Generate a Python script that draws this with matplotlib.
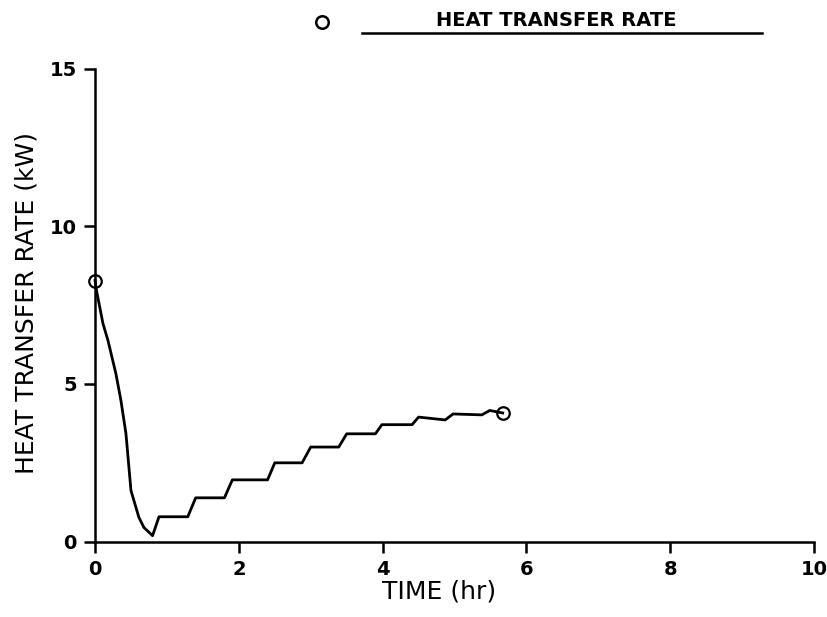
import matplotlib
matplotlib.use('Agg')
import matplotlib.pyplot as plt
from matplotlib.lines import Line2D

# heat transfer rate vs time
time_hr = [0.0, 0.02, 0.11, 0.18, 0.29, 0.36, 0.43, 0.50, 0.61, 0.68, 0.80,
           0.89, 1.29, 1.40, 1.80, 1.91, 2.40, 2.50, 2.88, 3.00, 3.39, 3.50,
           3.90, 3.99, 4.41, 4.50, 4.87, 4.98, 5.38, 5.49, 5.67]
rate_kw = [8.28, 7.97, 6.92, 6.38, 5.33, 4.48, 3.43, 1.62, 0.77, 0.45, 0.19,
           0.79, 0.79, 1.39, 1.39, 1.96, 1.96, 2.50, 2.50, 3.00, 3.00, 3.42,
           3.42, 3.71, 3.71, 3.95, 3.86, 4.05, 4.02, 4.16, 4.08]

x_ticks = [0, 2, 4, 6, 8, 10]
y_ticks = [0, 5, 10, 15]
legend_label = 'HEAT TRANSFER RATE'

fig = plt.figure(figsize=(8.27, 6.17), dpi=100)
ax = fig.add_axes([0.1149, 0.1221, 0.8694, 0.7667])

ax.plot(time_hr, rate_kw, color='black', lw=2.0, marker='o', markevery=[0, -1],
        ms=9, mfc='none', mec='black', mew=1.6, clip_on=False, zorder=3)

ax.set_xlim(0, 10)
ax.set_ylim(0, 15)
ax.set_xticks(x_ticks)
ax.set_yticks(y_ticks)
for s in ['top', 'right']:
    ax.spines[s].set_visible(False)
for s in ['left', 'bottom']:
    ax.spines[s].set_linewidth(1.8)
ax.tick_params(axis='both', direction='out', length=8, width=1.8, labelsize=14, pad=5)
for lab in ax.get_xticklabels() + ax.get_yticklabels():
    lab.set_fontweight('bold')

ax.set_xlabel('TIME (hr)', fontsize=18)
ax.xaxis.set_label_coords(0.478, -0.08)
ax.set_ylabel('HEAT TRANSFER RATE (kW)', fontsize=18)
ax.yaxis.set_label_coords(-0.079, 0.505)

# legend drawn above the axes: marker, then label over a line
fig.add_artist(Line2D([322 / 827], [1 - 22 / 617], marker='o', ms=9, mfc='none',
                      mec='black', mew=1.8, transform=fig.transFigure))
fig.add_artist(Line2D([362 / 827, 762 / 827], [1 - 33 / 617, 1 - 33 / 617],
                      color='black', lw=1.8, transform=fig.transFigure))
fig.text(556 / 827, 1 - 21 / 617, legend_label, fontsize=14, fontweight='bold',
         ha='center', va='center')

plt.savefig('out.png', dpi=100)
